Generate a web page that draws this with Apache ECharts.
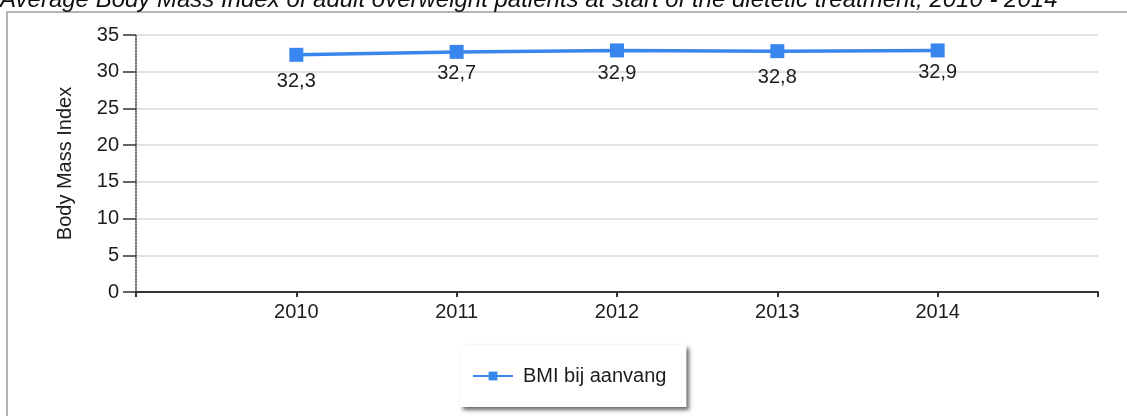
<!DOCTYPE html>
<html>
<head>
<meta charset="utf-8">
<title>BMI bij aanvang</title>
<script src="https://cdn.jsdelivr.net/npm/echarts@6/dist/echarts.min.js"></script>
<style>
  html, body { margin: 0; padding: 0; background: #fff; }
  #chart { width: 1127px; height: 416px; }
</style>
</head>
<body>
<div id="chart"></div>
<script>
// Yearly averages of BMI at the start of dietetic treatment
var years = [2010, 2011, 2012, 2013, 2014];
var bmiStart = [32.3, 32.7, 32.9, 32.8, 32.9];
var yTicks = [0, 5, 10, 15, 20, 25, 30, 35];

var FONT = '"Liberation Sans", Arial, sans-serif';
var BLUE = '#3a86ef';
var INK = '#1c1c1c';

// gap between each marker and its value label (labels are staggered)
var labelGap = [10, 4.5, 6, 9, 5.5];

function fmt(v) { return v.toFixed(1).replace('.', ','); }

var points = years.map(function (y, i) {
  return {
    value: [y, bmiStart[i]],
    label: { distance: labelGap[i] }
  };
});

var chart = echarts.init(document.getElementById('chart'), null, { renderer: 'canvas' });

chart.setOption({
  animation: false,
  backgroundColor: '#fff',
  textStyle: { fontFamily: FONT },
  graphic: [
    {
      type: 'rect',
      shape: { x: 7, y: 12, width: 1200, height: 500 },
      style: { fill: 'none', stroke: '#9a9a9a', lineWidth: 1.5 },
      silent: true
    },
    {
      type: 'text',
      x: 0,
      y: 0,
      style: {
        text: 'Average Body Mass Index of adult overweight patients at start of the dietetic treatment, 2010 - 2014',
        font: 'italic 24px ' + FONT,
        fill: '#111',
        verticalAlign: 'middle'
      },
      silent: true
    }
  ],
  grid: { left: 136, right: 29, top: 35, bottom: 124, containLabel: false },
  xAxis: {
    type: 'value',
    min: years[0] - 1,
    max: years[years.length - 1] + 1,
    interval: 1,
    axisLine: { show: true, lineStyle: { color: '#333', width: 2 } },
    axisTick: { show: true, length: 5, lineStyle: { color: '#333', width: 2 } },
    splitLine: { show: false },
    axisLabel: {
      fontSize: 20,
      color: INK,
      margin: 10,
      fontFamily: FONT,
      formatter: function (v) { return years.indexOf(v) >= 0 ? String(v) : ''; }
    }
  },
  yAxis: {
    type: 'value',
    min: yTicks[0],
    max: yTicks[yTicks.length - 1],
    interval: 5,
    name: 'Body Mass Index',
    nameLocation: 'middle',
    nameRotate: 90,
    nameGap: 61,
    nameTextStyle: { fontSize: 20, color: INK, fontFamily: FONT },
    axisLine: { show: true, lineStyle: { color: '#444', width: 1.5, type: 'dotted' } },
    axisTick: { show: true, length: 13, lineStyle: { color: '#333', width: 1.5 } },
    splitLine: { show: true, lineStyle: { color: '#e2e2e2', width: 2 } },
    axisLabel: { fontSize: 20, color: INK, margin: 17, fontFamily: FONT }
  },
  legend: {
    show: true,
    left: 460,
    top: 345,
    padding: [21, 20, 21, 12],
    itemWidth: 40,
    itemHeight: 11,
    backgroundColor: '#fff',
    borderWidth: 0,
    shadowColor: 'rgba(0,0,0,0.6)',
    shadowBlur: 4,
    shadowOffsetX: 3,
    shadowOffsetY: 3,
    textStyle: { fontSize: 20, color: INK, fontFamily: FONT, padding: [0, 0, 0, 5] },
    data: ['BMI bij aanvang']
  },
  series: [
    {
      name: 'BMI bij aanvang',
      type: 'line',
      data: points,
      symbol: 'rect',
      symbolSize: 14,
      lineStyle: { color: BLUE, width: 3.5 },
      itemStyle: { color: BLUE },
      label: {
        show: true,
        position: 'bottom',
        fontSize: 20,
        color: INK,
        fontFamily: FONT,
        formatter: function (p) { return fmt(p.value[1]); }
      }
    }
  ]
});
</script>
</body>
</html>
